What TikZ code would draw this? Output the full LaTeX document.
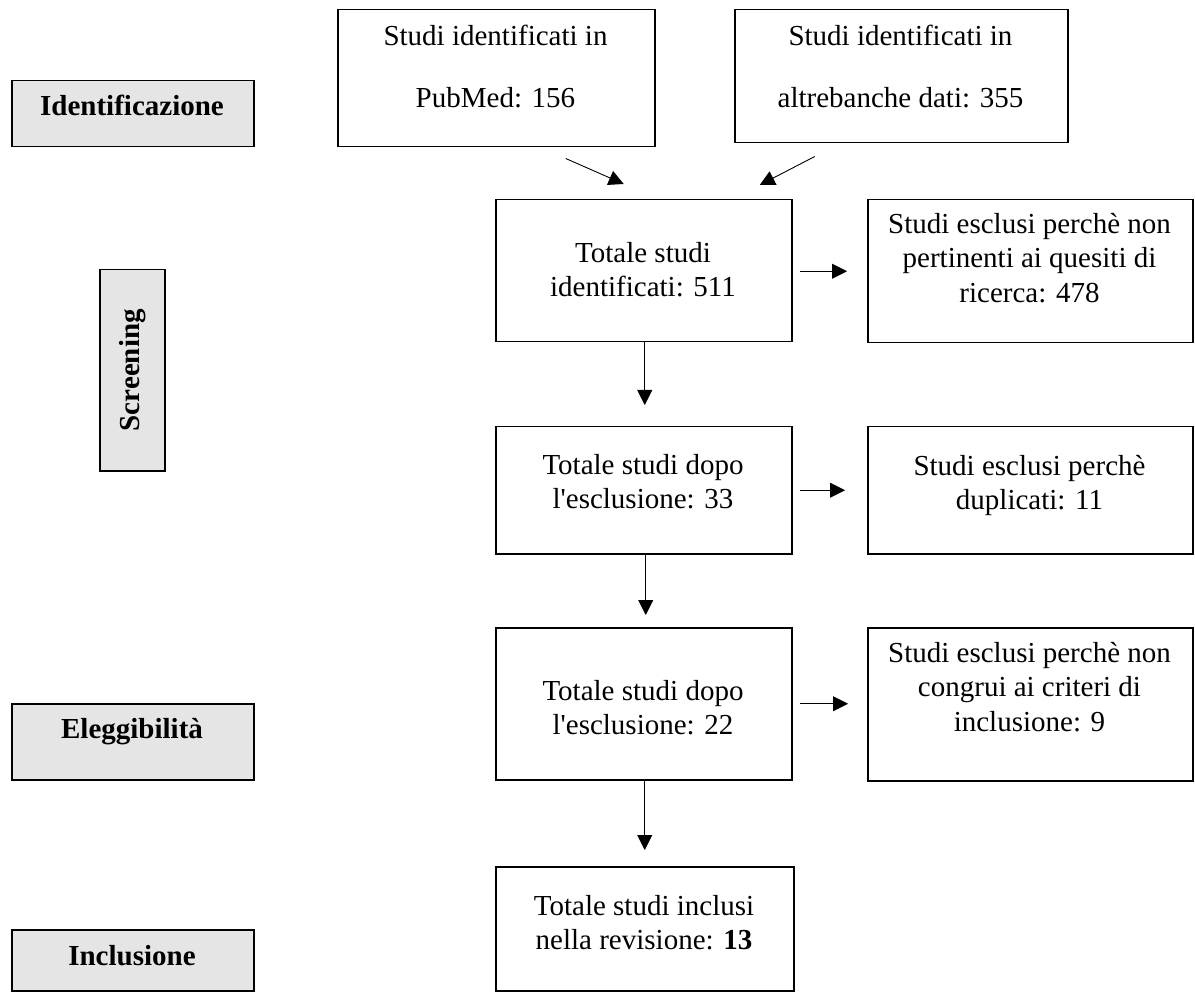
\documentclass[tikz,border=0pt]{standalone}
\usepackage{fontspec}
\setmainfont{Liberation Serif}
\usetikzlibrary{arrows.meta,calc}
\newcommand{\mystrut}{\rule{0pt}{22pt}}
\begin{document}
\begin{tikzpicture}[x=1pt,y=-1pt,
  box/.style={draw=black,line width=1.5pt,inner sep=0pt,anchor=north west},
  phase/.style={box,fill=black!10},
  lbl/.style={inner sep=0pt,anchor=north,align=center,font=\fontsize{29}{34.5}\selectfont},
  plbl/.style={lbl,font=\fontsize{29}{34.5}\selectfont\bfseries},
  arr/.style={line width=0.9pt,-{Triangle[length=15pt,width=15pt]}}]
\useasboundingbox (0,0) rectangle (1195,992);
% phase boxes
\node[phase,minimum width=242pt,minimum height=66pt] (id) at (11,80) {};
\node[phase,minimum width=65pt,minimum height=201pt] (scr) at (99,269) {};
\node[phase,minimum width=242pt,minimum height=76pt] (el) at (11,703) {};
\node[phase,minimum width=242pt,minimum height=61pt] (inc) at (11,929) {};
% flow boxes
\node[box,minimum width=317pt,minimum height=137pt] (pub) at (337,9) {};
\node[box,minimum width=333pt,minimum height=133pt] (alt) at (734,9) {};
\node[box,minimum width=296pt,minimum height=142pt] (t511) at (495,199) {};
\node[box,minimum width=325pt,minimum height=143pt] (ex478) at (867,199) {};
\node[box,minimum width=296pt,minimum height=127pt] (t33) at (495,426) {};
\node[box,minimum width=325pt,minimum height=127pt] (dup) at (867,426) {};
\node[box,minimum width=296pt,minimum height=152pt] (t22) at (495,627) {};
\node[box,minimum width=325pt,minimum height=153pt] (ex9) at (867,627) {};
\node[box,minimum width=298pt,minimum height=124pt] (t13) at (495,866) {};
% labels
\node[plbl] (idl) at (132,93) {\mystrut Identificazione};
\node[plbl,anchor=center,rotate=90] (scl) at (scr.center) {Screening};
\node[plbl] (ell) at (132,716) {\mystrut Eleggibilità};
\node[plbl] (incl) at (132,943) {\mystrut Inclusione};
\node[lbl] (publ) at (495.5,23) {\mystrut Studi identificati in\\[27.5pt]PubMed: 156};
\node[lbl] (altl) at (900.5,23) {\mystrut Studi identificati in\\[27.5pt]altrebanche dati: 355};
\node[lbl] (t511l) at (643,240) {\mystrut Totale studi\\identificati: 511};
\node[lbl] (ex478l) at (1029.5,211) {\mystrut Studi esclusi perchè non\\pertinenti ai quesiti di\\ricerca: 478};
\node[lbl] (t33l) at (643,452) {\mystrut Totale studi dopo\\l\textquotesingle esclusione: 33};
\node[lbl] (dupl) at (1029.5,453) {\mystrut Studi esclusi perchè\\duplicati: 11};
\node[lbl] (t22l) at (643,678) {\mystrut Totale studi dopo\\l\textquotesingle esclusione: 22};
\node[lbl] (ex9l) at (1029.5,640) {\mystrut Studi esclusi perchè non\\congrui ai criteri di\\inclusione: 9};
\node[lbl] (t13l) at (644,893) {\mystrut Totale studi inclusi\\nella revisione: \textbf{13}};
% connectors
\draw[arr] ($(pub.south)+(69.5,11)$) -- ($(t511.north)+(-20,-15)$);
\draw[arr] ($(alt.south)+(-86.5,13)$) -- ($(t511.north)+(116,-14)$);
\draw[arr] ($(t511.east)+(7,0.5)$) -- ($(ex478.west)+(-20,0)$);
\draw[arr] ($(t511.south)+(1,0)$) -- ($(t33.north)+(1,-21)$);
\draw[arr] ($(t33.east)+(7,0)$) -- ($(dup.west)+(-22,0)$);
\draw[arr] ($(t33.south)+(2,0)$) -- ($(t22.north)+(2,-12)$);
\draw[arr] ($(t22.east)+(7,0)$) -- ($(ex9.west)+(-19,-0.5)$);
\draw[arr] ($(t22.south)+(1,0)$) -- ($(t13.north)+(0,-16)$);
\end{tikzpicture}
\end{document}
